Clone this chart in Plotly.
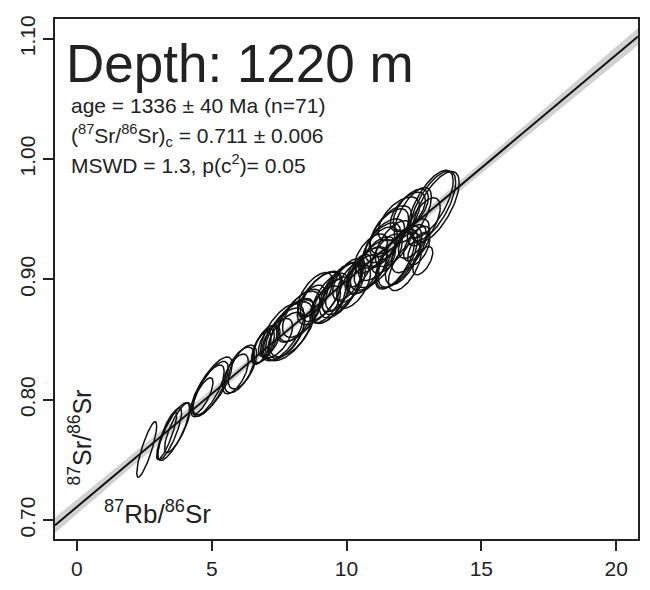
import numpy as np
import plotly.graph_objects as go

# ---- data ----
ell_x = [2.588, 3.327, 3.586, 3.734, 4.843, 5.028, 4.658, 6.026, 5.878, 6.839,
         6.987, 7.135, 7.616, 7.874, 7.763, 8.244, 8.096, 7.431, 8.983, 8.835,
         9.390, 9.760, 9.205, 10.055, 9.612, 10.277, 8.688, 9.908, 10.758, 10.610,
         11.423, 11.238, 11.793, 11.978, 12.163, 11.054, 10.462, 11.645, 11.941, 12.274,
         12.680, 12.828, 11.497, 12.311, 10.906, 11.756, 12.495, 13.309, 13.124, 12.458,
         12.865, 4.954, 6.137, 6.913, 7.985, 8.355, 9.057, 9.834, 10.166, 10.832,
         11.312, 11.867, 12.089, 11.571, 12.384, 13.198, 3.438, 9.353, 7.689, 11.128,
         12.606]
ell_y = [0.7587, 0.7702, 0.7736, 0.7769, 0.8074, 0.8116, 0.8033, 0.8248, 0.8215, 0.8430,
         0.8463, 0.8488, 0.8562, 0.8570, 0.8537, 0.8694, 0.8661, 0.8512, 0.8843, 0.8876,
         0.8843, 0.8909, 0.8793, 0.9000, 0.8876, 0.8942, 0.8818, 0.8942, 0.9074, 0.9041,
         0.9322, 0.9264, 0.9157, 0.9190, 0.9107, 0.9132, 0.9074, 0.9413, 0.9504, 0.9562,
         0.9256, 0.9157, 0.9215, 0.9256, 0.9215, 0.9298, 0.9339, 0.9603, 0.9628, 0.9537,
         0.9479, 0.8091, 0.8273, 0.8446, 0.8595, 0.8719, 0.8860, 0.8926, 0.8975, 0.9091,
         0.9289, 0.9174, 0.9174, 0.9388, 0.9579, 0.9612, 0.7719, 0.8818, 0.8545, 0.9174,
         0.9298]
ell_sx = [0.370, 0.370, 0.592, 0.481, 0.620, 0.730, 0.390, 0.560, 0.480, 0.360,
          0.440, 0.400, 0.800, 0.880, 0.680, 0.770, 0.690, 0.570, 0.810, 0.650,
          0.690, 0.770, 0.570, 0.570, 0.530, 0.610, 0.490, 0.690, 0.730, 0.610,
          0.730, 0.650, 0.730, 0.810, 0.610, 0.770, 0.450, 0.770, 0.770, 0.650,
          0.410, 0.370, 0.570, 0.650, 0.610, 0.690, 0.570, 0.870, 0.830, 0.690,
          0.610, 0.660, 0.530, 0.410, 0.850, 0.730, 0.770, 0.730, 0.530, 0.690,
          0.690, 0.770, 0.650, 0.730, 0.650, 0.850, 0.444, 0.610, 0.770, 0.690,
          0.490]
ell_sy = [0.0231, 0.0198, 0.0240, 0.0207, 0.0215, 0.0240, 0.0150, 0.0190, 0.0165, 0.0136,
          0.0154, 0.0128, 0.0237, 0.0245, 0.0191, 0.0209, 0.0182, 0.0164, 0.0218, 0.0182,
          0.0209, 0.0228, 0.0154, 0.0173, 0.0145, 0.0182, 0.0136, 0.0200, 0.0191, 0.0164,
          0.0182, 0.0173, 0.0237, 0.0254, 0.0200, 0.0200, 0.0136, 0.0200, 0.0182, 0.0164,
          0.0136, 0.0118, 0.0164, 0.0200, 0.0164, 0.0191, 0.0164, 0.0295, 0.0280, 0.0228,
          0.0200, 0.0228, 0.0182, 0.0145, 0.0237, 0.0200, 0.0209, 0.0218, 0.0164, 0.0182,
          0.0182, 0.0245, 0.0218, 0.0200, 0.0173, 0.0290, 0.0215, 0.0182, 0.0218, 0.0182,
          0.0145]
ell_rho = [0.85, 0.85, 0.80, 0.80, 0.75, 0.75, 0.75, 0.60, 0.62, 0.62,
           0.62, 0.60, 0.62, 0.60, 0.60, 0.62, 0.60, 0.60, 0.62, 0.60,
           0.60, 0.62, 0.60, 0.60, 0.60, 0.60, 0.60, 0.62, 0.60, 0.60,
           0.58, 0.58, 0.65, 0.65, 0.62, 0.60, 0.60, 0.60, 0.58, 0.58,
           0.58, 0.58, 0.60, 0.60, 0.60, 0.60, 0.60, 0.68, 0.68, 0.65,
           0.60, 0.75, 0.60, 0.62, 0.60, 0.60, 0.60, 0.62, 0.60, 0.60,
           0.58, 0.65, 0.62, 0.60, 0.58, 0.68, 0.82, 0.60, 0.60, 0.60,
           0.60]

age_ma = 1336.0
age_err = 40.0
lambda_rb = 1.393e-5       # per Ma
intercept = 0.711
intercept_err = 0.006
x_mean = 9.3

x_ticks = [0, 5, 10, 15, 20]
y_ticks = [0.70, 0.80, 0.90, 1.00, 1.10]
y_ticklabels = ["0.70", "0.80", "0.90", "1.00", "1.10"]
x_range = [-0.813, 20.81]
y_range = [0.6843, 1.1165]

# ---- derived ----
slope = np.exp(lambda_rb * age_ma) - 1
slope_err = lambda_rb * np.exp(lambda_rb * age_ma) * age_err

xl = np.linspace(x_range[0], x_range[1], 200)
yl = intercept + slope * xl
cov = -x_mean * slope_err ** 2
err = np.sqrt(np.maximum(intercept_err ** 2 + 2 * xl * cov + xl ** 2 * slope_err ** 2, 0))

fig = go.Figure()
fig.add_trace(go.Scatter(
    x=np.concatenate([xl, xl[::-1]]),
    y=np.concatenate([yl + err, (yl - err)[::-1]]),
    fill="toself", fillcolor="rgba(185,185,185,0.65)", line=dict(width=0),
    hoverinfo="skip", showlegend=False))
fig.add_trace(go.Scatter(x=xl, y=yl, mode="lines",
                         line=dict(color="#111111", width=2), showlegend=False))

t = np.linspace(0, 2 * np.pi, 120)
ex, ey = [], []
for cx, cy, sx, sy, r in zip(ell_x, ell_y, ell_sx, ell_sy, ell_rho):
    ex.extend(list(cx + sx * np.cos(t)) + [None])
    ey.extend(list(cy + sy * (r * np.cos(t) + np.sqrt(1 - r * r) * np.sin(t))) + [None])
fig.add_trace(go.Scatter(x=ex, y=ey, mode="lines",
                         line=dict(color="#111111", width=1.5), showlegend=False))

L, R, T, B = 55, 10, 19, 48
W, H = 650, 590
pw, ph = W - L - R, H - T - B


def px(xp):
    return (xp - L) / pw


def py(yp):
    return (H - B - yp) / ph


font = "Liberation Sans, Arial, sans-serif"
ann = [
    dict(text="Depth: 1220 m", x=px(64), y=py(64), size=53),
    dict(text="age = 1336 ± 40 Ma (n=71)", x=px(69), y=py(106), size=21),
    dict(text="(<sup>87</sup>Sr/<sup>86</sup>Sr)<sub>c</sub> = 0.711 ± 0.006", x=px(69), y=py(136), size=21),
    dict(text="MSWD = 1.3, p(c<sup>2</sup>)= 0.05", x=px(69), y=py(165), size=21),
    dict(text="<sup>87</sup>Rb/<sup>86</sup>Sr", x=px(102), y=py(515), size=26),
]
for a in ann:
    fig.add_annotation(text=a["text"], x=a["x"], y=a["y"], xref="paper", yref="paper",
                       xanchor="left", yanchor="middle", showarrow=False,
                       font=dict(family=font, size=a["size"], color="#222222"))
fig.add_annotation(text="<sup>87</sup>Sr/<sup>86</sup>Sr", x=px(80), y=py(440),
                   xref="paper", yref="paper", textangle=-90, showarrow=False,
                   xanchor="center", yanchor="middle",
                   font=dict(family=font, size=25, color="#222222"))

axis_common = dict(showline=True, mirror=True, linecolor="#222222", linewidth=1.5,
                   ticks="outside", ticklen=10, tickwidth=1.5, tickcolor="#222222",
                   showgrid=False, zeroline=False,
                   tickfont=dict(family=font, size=21, color="#222222"))
fig.update_xaxes(range=x_range, tickvals=x_ticks, **axis_common)
fig.update_yaxes(range=y_range, tickvals=y_ticks, ticktext=y_ticklabels, tickangle=-90,
                 **axis_common)
fig.update_layout(width=W, height=H, margin=dict(l=L, r=R, t=T, b=B),
                  paper_bgcolor="white", plot_bgcolor="white", showlegend=False)
fig.write_html("out.html")
